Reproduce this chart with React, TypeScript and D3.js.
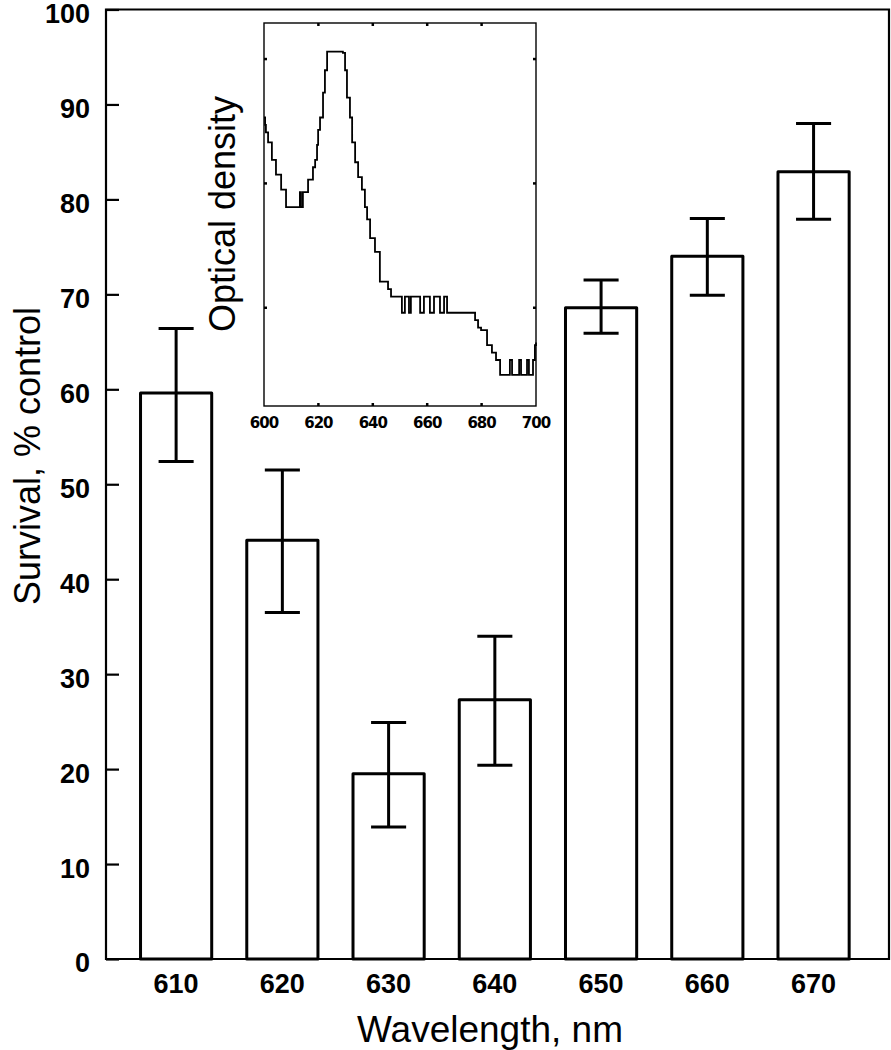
import React, { useEffect, useRef } from "react";
import * as d3 from "d3";

// main bars: survival (% control) vs irradiation wavelength
const wavelengths = [610, 620, 630, 640, 650, 660, 670];
const survival = [59.6, 44.1, 19.5, 27.3, 68.6, 74.0, 82.9];
const errHigh = [66.4, 51.5, 24.9, 34.0, 71.5, 78.0, 88.0];
const errLow = [52.4, 36.5, 13.9, 20.4, 65.9, 69.9, 77.9];
const yTicks = [0, 10, 20, 30, 40, 50, 60, 70, 80, 90, 100];

// inset: absorption spectrum (stepped trace)
const spectrumNm = [
  600.0, 600.4, 600.7, 601.5, 602.9, 604.4, 606.3, 608.1, 613.2, 613.6,
  614.3, 616.2, 618.0, 618.8, 619.5, 619.9, 620.6, 621.7, 622.4, 623.2,
  629.0, 629.8, 630.5, 631.6, 632.4, 633.5, 634.6, 636.0, 637.1, 637.9,
  639.0, 640.8, 642.6, 645.6, 646.7, 650.7, 651.8, 653.3, 654.0, 657.4,
  658.8, 661.0, 662.5, 664.7, 666.2, 667.3, 677.6, 678.7, 679.8, 682.0,
  683.8, 685.3, 686.8, 690.4, 691.2, 693.8, 694.5, 696.7, 697.4, 698.9,
  699.6, 700.0,
];
const spectrumOd = [
  0.553, 0.547, 0.541, 0.533, 0.519, 0.507, 0.495, 0.481, 0.493, 0.481,
  0.493, 0.503, 0.513, 0.519, 0.531, 0.543, 0.553, 0.573, 0.591, 0.606,
  0.605, 0.591, 0.569, 0.553, 0.533, 0.517, 0.505, 0.495, 0.481, 0.471,
  0.456, 0.445, 0.421, 0.415, 0.409, 0.396, 0.409, 0.396, 0.409, 0.396,
  0.409, 0.396, 0.409, 0.396, 0.409, 0.396, 0.390, 0.384, 0.382, 0.370,
  0.364, 0.358, 0.346, 0.358, 0.346, 0.358, 0.346, 0.358, 0.346, 0.358,
  0.370, 0.372,
];
const insetXTicks = [600, 620, 640, 660, 680, 700];
const insetYTicks = [0.4, 0.5, 0.6];

const FONT = "'Liberation Sans', Arial, Helvetica, sans-serif";

export default function App() {
  const ref = useRef<SVGSVGElement>(null);

  useEffect(() => {
    const svg = d3.select(ref.current);
    svg.selectAll("*").remove();

    const left = 106, right = 889, top = 9.5, bottom = 959;

    const x = d3.scaleLinear().domain([603.4, 677.1]).range([left, right]);
    const y = d3.scaleLinear().domain([0, 100]).range([bottom, top]);
    const barHalf = 3.35; // nm
    const capHalf = 1.65; // nm

    const g = svg.append("g");

    // frame
    g.append("path")
      .attr("d", `M${left},${top}H${right}V${bottom}H${left}Z`)
      .attr("fill", "none")
      .attr("stroke", "#000")
      .attr("stroke-width", 2.2);

    // y axis with inward ticks
    const yAxis = g.append("g")
      .attr("transform", `translate(${left},0)`)
      .call(d3.axisLeft(y).tickValues(yTicks).tickSizeInner(-13).tickSizeOuter(0).tickPadding(16));
    yAxis.select(".domain").remove();
    yAxis.selectAll(".tick line").attr("stroke-width", 2.2);
    yAxis.selectAll(".tick text")
      .attr("dy", "0.48em")
      .style("font-family", FONT)
      .style("font-size", "27px")
      .style("font-weight", "bold")
      .attr("fill", "#000");

    // bars
    const data = wavelengths.map((w, i) => ({ w, v: survival[i], hi: errHigh[i], lo: errLow[i] }));
    g.selectAll("rect.bar")
      .data(data)
      .join("rect")
      .attr("class", "bar")
      .attr("x", d => x(d.w - barHalf))
      .attr("y", d => y(d.v))
      .attr("width", d => x(d.w + barHalf) - x(d.w - barHalf))
      .attr("height", d => y(0) - y(d.v))
      .attr("fill", "#fff")
      .attr("stroke", "#000")
      .attr("stroke-width", 3)
      .attr("stroke-linejoin", "round");

    // error bars
    const eb = g.selectAll("g.err").data(data).join("g").attr("class", "err")
      .attr("stroke", "#000").attr("stroke-width", 3);
    eb.append("line")
      .attr("x1", d => x(d.w)).attr("x2", d => x(d.w))
      .attr("y1", d => y(d.lo)).attr("y2", d => y(d.hi));
    eb.append("line")
      .attr("x1", d => x(d.w - capHalf)).attr("x2", d => x(d.w + capHalf))
      .attr("y1", d => y(d.hi)).attr("y2", d => y(d.hi));
    eb.append("line")
      .attr("x1", d => x(d.w - capHalf)).attr("x2", d => x(d.w + capHalf))
      .attr("y1", d => y(d.lo)).attr("y2", d => y(d.lo));

    // x labels
    g.selectAll("text.xl")
      .data(wavelengths)
      .join("text")
      .attr("class", "xl")
      .attr("x", d => x(d))
      .attr("y", bottom + 34)
      .attr("text-anchor", "middle")
      .style("font-family", FONT)
      .style("font-size", "27px")
      .style("font-weight", "bold")
      .text(d => d);

    g.append("text")
      .attr("x", 490)
      .attr("y", 1042)
      .attr("text-anchor", "middle")
      .style("font-family", FONT)
      .style("font-size", "37px")
      .text("Wavelength, nm");

    g.append("text")
      .attr("transform", `translate(40,456) rotate(-90)`)
      .attr("text-anchor", "middle")
      .style("font-family", FONT)
      .style("font-size", "36px")
      .text("Survival, % control");

    // inset spectrum
    const il = 264, ir = 536, it = 23, ib = 406;
    const xi = d3.scaleLinear().domain([600, 700]).range([il, ir]);
    const yi = d3.scaleLinear().domain([0.321, 0.629]).range([ib, it]);
    const inset = svg.append("g");

    inset.append("rect")
      .attr("x", il).attr("y", it)
      .attr("width", ir - il).attr("height", ib - it)
      .attr("fill", "none").attr("stroke", "#000").attr("stroke-width", 1.4);

    const innerX = insetXTicks.slice(1, -1);
    inset.selectAll("line.tx")
      .data(innerX.flatMap(t => [[t, ib, -3], [t, it, 3]]))
      .join("line")
      .attr("x1", d => xi(d[0])).attr("x2", d => xi(d[0]))
      .attr("y1", d => d[1]).attr("y2", d => d[1] + d[2])
      .attr("stroke", "#000").attr("stroke-width", 2.5);
    inset.selectAll("line.ty")
      .data(insetYTicks.flatMap(t => [[t, il, 3], [t, ir, -3]]))
      .join("line")
      .attr("y1", d => yi(d[0])).attr("y2", d => yi(d[0]))
      .attr("x1", d => d[1]).attr("x2", d => d[1] + d[2])
      .attr("stroke", "#000").attr("stroke-width", 2.5);

    inset.selectAll("text.itx")
      .data(insetXTicks)
      .join("text")
      .attr("x", d => xi(d))
      .attr("y", ib + 22)
      .attr("text-anchor", "middle")
      .style("font-family", "'DejaVu Sans', sans-serif")
      .style("font-size", "15px")
      .style("font-weight", "bold")
      .style("letter-spacing", "-1px")
      .text(d => d);

    const spec = spectrumNm.map((n, i) => [n, spectrumOd[i]] as [number, number]);
    const line = d3.line<[number, number]>()
      .x(d => xi(d[0]))
      .y(d => yi(d[1]))
      .curve(d3.curveStepAfter);
    inset.append("path")
      .attr("d", line(spec))
      .attr("fill", "none")
      .attr("stroke", "#000")
      .attr("stroke-width", 1.8);

    inset.append("text")
      .attr("transform", `translate(235,214) rotate(-90)`)
      .attr("text-anchor", "middle")
      .style("font-family", FONT)
      .style("font-size", "36px")
      .text("Optical density");
  }, []);

  return (
    <svg
      ref={ref}
      width={891}
      height={1050}
      style={{ position: "absolute", left: 0, top: 0, background: "#fff" }}
    />
  );
}
